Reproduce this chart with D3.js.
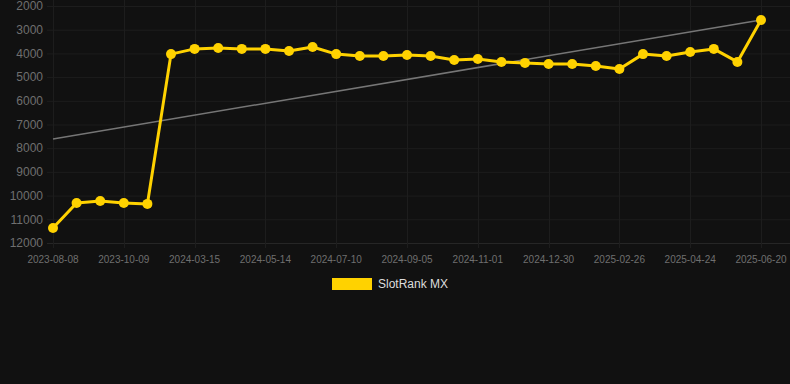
<!DOCTYPE html>
<html>
<head>
<meta charset="utf-8">
<script src="https://cdn.jsdelivr.net/npm/d3@7"></script>
<style>
  html, body { margin: 0; padding: 0; background: #111111; }
  svg { display: block; font-family: Arial, "Liberation Sans", sans-serif; }
</style>
</head>
<body>
<div id="chart"></div>
<script>
// rank per snapshot date (lower is better, axis reversed)
var DATES = ['2023-08-08', '2023-08-29', '2023-09-19', '2023-10-09', '2023-10-30', '2024-02-22',
    '2024-03-15', '2024-04-04', '2024-04-24', '2024-05-14', '2024-06-02', '2024-06-21',
    '2024-07-10', '2024-07-29', '2024-08-17', '2024-09-05', '2024-09-24', '2024-10-13',
    '2024-11-01', '2024-11-20', '2024-12-10', '2024-12-30', '2025-01-18', '2025-02-07',
    '2025-02-26', '2025-03-17', '2025-04-05', '2025-04-24', '2025-05-13', '2025-06-01', '2025-06-20'];
var RANKS = [11370, 10310, 10230, 10310, 10350, 4030,
    3810, 3770, 3810, 3810, 3900, 3730,
    4030, 4110, 4110, 4070, 4110, 4280,
    4240, 4360, 4400, 4450, 4450, 4530,
    4660, 4030, 4110, 3940, 3810, 4360, 2590];
var Y_TICKS = [2000, 3000, 4000, 5000, 6000, 7000, 8000, 9000, 10000, 11000, 12000];
var SERIES_NAME = 'SlotRank MX';

var WIDTH = 790, HEIGHT = 384;
var LEFT = 53, RIGHT = 761, TOP = 6, BOTTOM = 243;

var svg = d3.select('#chart').append('svg')
    .attr('width', WIDTH)
    .attr('height', HEIGHT);

svg.append('rect').attr('width', WIDTH).attr('height', HEIGHT).attr('fill', '#111111');

var x = d3.scalePoint().domain(DATES).range([LEFT, RIGHT]);
var y = d3.scaleLinear().domain([2000, 12000]).range([TOP, BOTTOM]);

var labelDates = DATES.filter(function(d, i){ return i % 3 === 0; });

// grid
var grid = svg.append('g');
grid.selectAll('line.h')
    .data(Y_TICKS).enter()
    .append('line')
    .attr('x1', 47).attr('x2', WIDTH)
    .attr('y1', function(d){ return y(d) + 0.5; })
    .attr('y2', function(d){ return y(d) + 0.5; })
    .attr('stroke', function(d){ return d === 12000 ? '#262626' : '#1d1d1d'; })
    .attr('stroke-width', 1);
grid.selectAll('line.v')
    .data(labelDates).enter()
    .append('line')
    .attr('x1', function(d){ return Math.round(x(d)) + 0.5; })
    .attr('x2', function(d){ return Math.round(x(d)) + 0.5; })
    .attr('y1', 0).attr('y2', BOTTOM + 5)
    .attr('stroke', '#1d1d1d')
    .attr('stroke-width', 1);

// y axis labels
svg.append('g').selectAll('text')
    .data(Y_TICKS).enter()
    .append('text')
    .attr('x', 43)
    .attr('y', function(d){ return y(d); })
    .attr('dy', '0.35em')
    .attr('text-anchor', 'end')
    .attr('fill', '#6f6f6f')
    .attr('font-size', 12)
    .text(function(d){ return d; });

// x axis labels
svg.append('g').selectAll('text')
    .data(labelDates).enter()
    .append('text')
    .attr('x', function(d){ return x(d); })
    .attr('y', 263)
    .attr('text-anchor', 'middle')
    .attr('fill', '#6f6f6f')
    .attr('font-size', 10)
    .text(function(d){ return d; });

// linear trend of the ranks
var n = RANKS.length;
var mx = d3.mean(RANKS, function(d, i){ return i; });
var my = d3.mean(RANKS);
var sxy = d3.sum(RANKS, function(d, i){ return (i - mx) * (d - my); });
var sxx = d3.sum(RANKS, function(d, i){ return (i - mx) * (i - mx); });
var slope = sxy / sxx;
var trend = [0, n - 1].map(function(i){ return [DATES[i], my + slope * (i - mx)]; });

svg.append('path')
    .datum(trend)
    .attr('fill', 'none')
    .attr('stroke', '#767676')
    .attr('stroke-width', 1.5)
    .attr('d', d3.line()
        .x(function(d){ return x(d[0]); })
        .y(function(d){ return y(d[1]); }));

// series
var points = DATES.map(function(d, i){ return {date: d, rank: RANKS[i]}; });

svg.append('path')
    .datum(points)
    .attr('fill', 'none')
    .attr('stroke', '#ffd200')
    .attr('stroke-width', 3)
    .attr('stroke-linejoin', 'round')
    .attr('d', d3.line()
        .x(function(d){ return x(d.date); })
        .y(function(d){ return y(d.rank); }));

svg.append('g').selectAll('circle')
    .data(points).enter()
    .append('circle')
    .attr('cx', function(d){ return x(d.date); })
    .attr('cy', function(d){ return y(d.rank); })
    .attr('r', 5)
    .attr('fill', '#ffd200');

// legend
var legend = svg.append('g');
legend.append('rect')
    .attr('x', 332).attr('y', 278)
    .attr('width', 40).attr('height', 12)
    .attr('fill', '#ffd200');
legend.append('text')
    .attr('x', 378).attr('y', 284)
    .attr('dy', '0.35em')
    .attr('fill', '#dddddd')
    .attr('font-size', 12)
    .text(SERIES_NAME);
</script>
</body>
</html>
